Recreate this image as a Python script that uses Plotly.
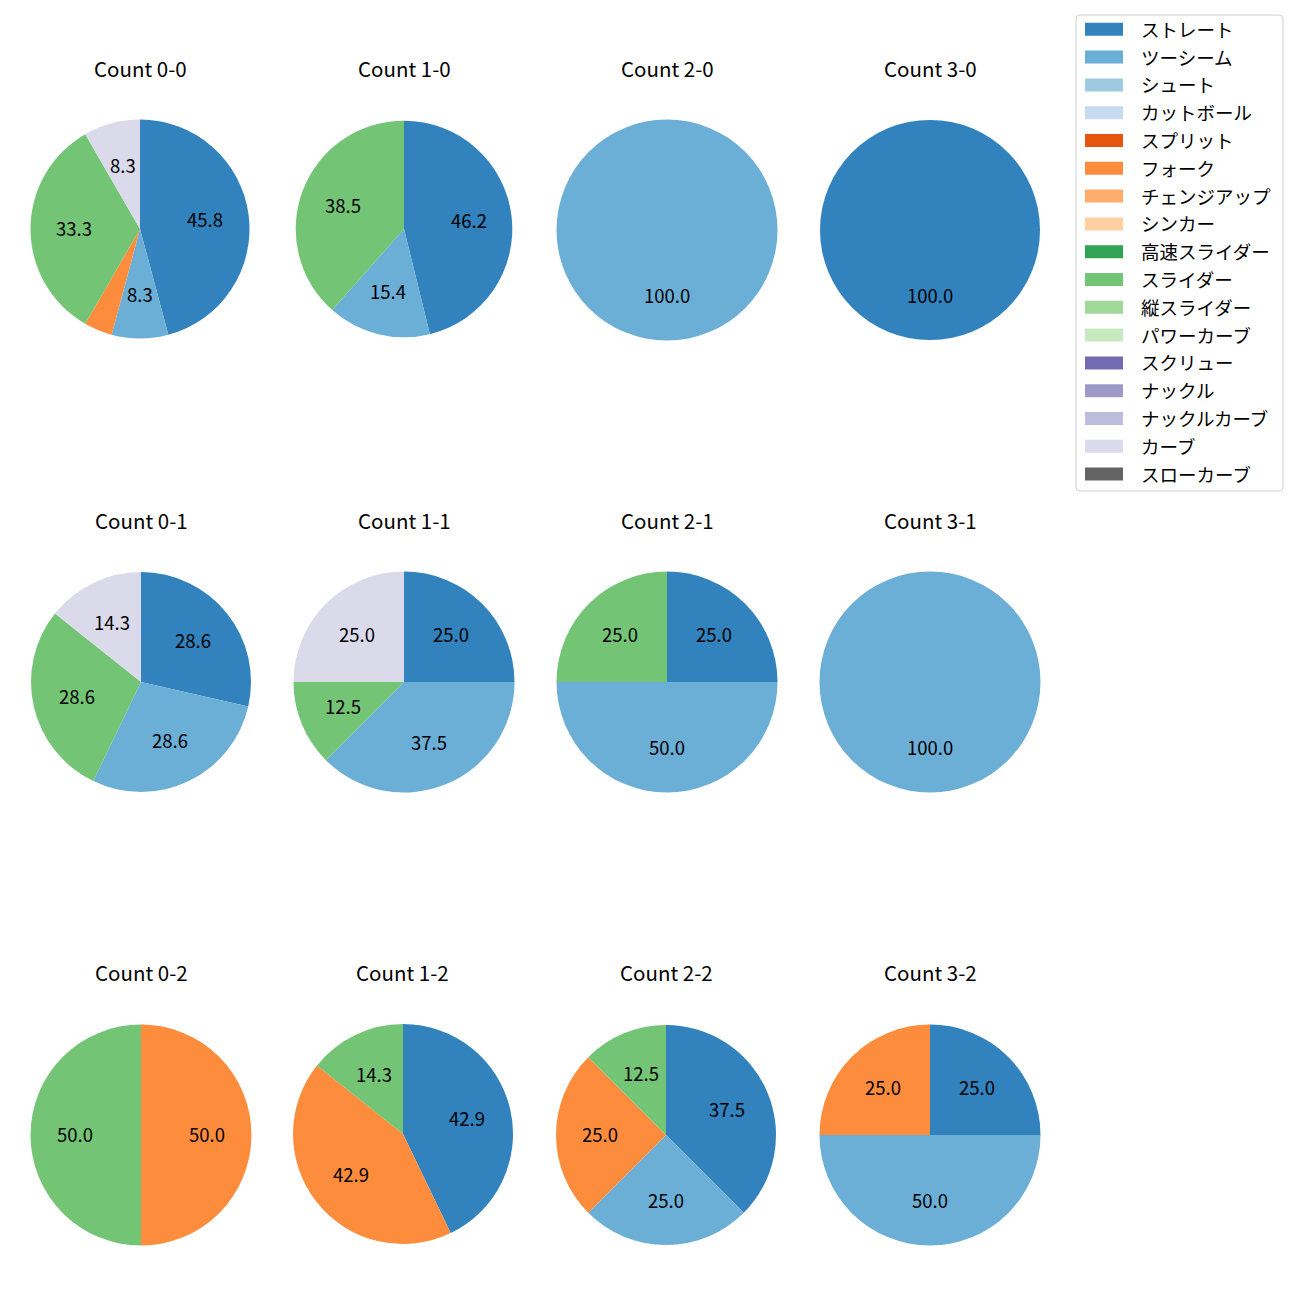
import math
import plotly.graph_objects as go

W, H = 1300, 1300
OFF = 8  # page body margin in the browser

pitch_types = ["ストレート", "ツーシーム", "シュート", "カットボール", "スプリット", "フォーク",
               "チェンジアップ", "シンカー", "高速スライダー", "スライダー", "縦スライダー",
               "パワーカーブ", "スクリュー", "ナックル", "ナックルカーブ", "カーブ", "スローカーブ"]
colors = ["#3182bd", "#6baed6", "#9ecae1", "#c6dbef", "#e6550d", "#fd8d3c", "#fdae6b", "#fdd0a2",
          "#31a354", "#74c476", "#a1d99b", "#c7e9c0", "#756bb1", "#9e9ac8", "#bcbddc", "#dadaeb",
          "#636363"]
color_map = dict(zip(pitch_types, colors))

counts = ["0-0", "1-0", "2-0", "3-0",
          "0-1", "1-1", "2-1", "3-1",
          "0-2", "1-2", "2-2", "3-2"]

# pitch counts per ball-strike count (labels, values)
c00_labels = ["ストレート", "ツーシーム", "フォーク", "スライダー", "カーブ"]
c00_values = [11, 2, 1, 8, 2]
c10_labels = ["ストレート", "ツーシーム", "スライダー"]
c10_values = [6, 2, 5]
c20_labels = ["ツーシーム"]
c20_values = [1]
c30_labels = ["ストレート"]
c30_values = [1]
c01_labels = ["ストレート", "ツーシーム", "スライダー", "カーブ"]
c01_values = [2, 2, 2, 1]
c11_labels = ["ストレート", "ツーシーム", "スライダー", "カーブ"]
c11_values = [2, 3, 1, 2]
c21_labels = ["ストレート", "ツーシーム", "スライダー"]
c21_values = [1, 2, 1]
c31_labels = ["ツーシーム"]
c31_values = [1]
c02_labels = ["フォーク", "スライダー"]
c02_values = [1, 1]
c12_labels = ["ストレート", "フォーク", "スライダー"]
c12_values = [3, 3, 1]
c22_labels = ["ストレート", "ツーシーム", "フォーク", "スライダー"]
c22_values = [3, 2, 2, 1]
c32_labels = ["ストレート", "ツーシーム", "フォーク"]
c32_values = [1, 2, 1]

data = [(c00_labels, c00_values), (c10_labels, c10_values), (c20_labels, c20_values),
        (c30_labels, c30_values), (c01_labels, c01_values), (c11_labels, c11_values),
        (c21_labels, c21_values), (c31_labels, c31_values), (c02_labels, c02_values),
        (c12_labels, c12_values), (c22_labels, c22_values), (c32_labels, c32_values)]

# pie placement (pixel centres and radii, as drawn in the reference)
pie_cx = [140, 404, 667, 930, 141, 404, 667, 930, 141, 403, 666, 930]
pie_cy = [229, 229, 230, 230, 682, 682, 682, 682, 1135, 1134, 1135, 1135]
pie_r = [109.5, 108.3, 110.5, 110, 110, 110.5, 110.5, 110.5, 110.5, 110, 110, 110.5]
title_y = [69, 69, 69, 69, 521, 521, 521, 521, 973, 973, 973, 973]
FONT = "Noto Sans CJK JP, Noto Sans, DejaVu Sans"

fig = go.Figure()
annotations = []
shapes = []

for i, (name, (labels, values)) in enumerate(zip(counts, data)):
    cx, cy, R = pie_cx[i] - OFF, pie_cy[i] - OFF, pie_r[i]
    fig.add_trace(go.Pie(
        labels=labels, values=values, sort=False, direction="clockwise", rotation=0,
        marker=dict(colors=[color_map[l] for l in labels], line=dict(width=0)),
        textinfo="none", hoverinfo="label+percent", showlegend=False,
        domain=dict(x=[(cx - R) / W, (cx + R) / W], y=[1 - (cy + R) / H, 1 - (cy - R) / H]),
    ))
    annotations.append(dict(x=cx / W, y=1 - (title_y[i] - OFF - 1) / H, xref="paper", yref="paper",
                            text=f"Count {name}", showarrow=False, xanchor="center", yanchor="middle",
                            font=dict(size=20.5, color="black", family=FONT)))
    total = sum(values)
    cum = 0
    for v in values:
        frac = v / total
        mid = 90 - 360 * (cum + frac / 2)
        cum += frac
        if frac * 100 < 5:
            continue
        tx = cx + 0.6 * R * math.cos(math.radians(mid))
        ty = cy - 0.6 * R * math.sin(math.radians(mid)) - 1
        annotations.append(dict(x=tx / W, y=1 - ty / H, xref="paper", yref="paper",
                                text=f"{frac * 100:.1f}", showarrow=False,
                                xanchor="center", yanchor="middle",
                                font=dict(size=18.5, color="black", family=FONT)))

# legend box
lx0, lx1, ly0, ly1, rad = 1076 - OFF, 1283 - OFF, 15 - OFF, 491 - OFF, 4
path = (f"M {lx0 + rad},{ly0} L {lx1 - rad},{ly0} Q {lx1},{ly0} {lx1},{ly0 + rad} "
        f"L {lx1},{ly1 - rad} Q {lx1},{ly1} {lx1 - rad},{ly1} L {lx0 + rad},{ly1} "
        f"Q {lx0},{ly1} {lx0},{ly1 - rad} L {lx0},{ly0 + rad} Q {lx0},{ly0} {lx0 + rad},{ly0} Z")
shapes.append(dict(type="path", xref="x", yref="y", path=path,
                   line=dict(color="#d0d0d0", width=1), fillcolor="rgba(255,255,255,0.8)"))
for k, (pt, col) in enumerate(zip(pitch_types, colors)):
    yc = 29.3 - OFF + 27.8 * k
    shapes.append(dict(type="rect", xref="x", yref="y", x0=1085 - OFF, x1=1123 - OFF,
                       y0=yc - 6.5, y1=yc + 6.5, line=dict(width=0), fillcolor=col))
    annotations.append(dict(x=1139 - OFF, y=yc - 0.5, xref="x", yref="y", text=pt, showarrow=False,
                            xanchor="left", yanchor="middle",
                            font=dict(size=18.5, color="black", family=FONT)))

fig.update_layout(
    width=W, height=H, margin=dict(l=0, r=0, t=0, b=0),
    paper_bgcolor="white", plot_bgcolor="rgba(0,0,0,0)",
    xaxis=dict(range=[0, W], visible=False, fixedrange=True),
    yaxis=dict(range=[H, 0], visible=False, fixedrange=True),
    annotations=annotations, shapes=shapes, showlegend=False,
)
fig.write_html("out.html")
